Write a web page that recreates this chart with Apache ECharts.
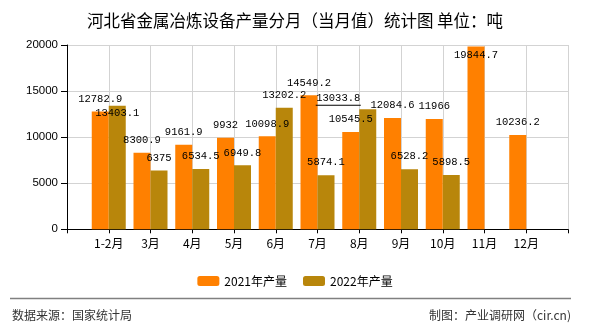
<!DOCTYPE html>
<html>
<head>
<meta charset="utf-8">
<script src="https://cdn.jsdelivr.net/npm/echarts@6/dist/echarts.min.js"></script>
<style>
html,body{margin:0;padding:0;background:#fff;}
#chart{width:590px;height:330px;}
</style>
</head>
<body>
<div id="chart"></div>
<script>
// ---- data ----
var categories = ['1-2月','3月','4月','5月','6月','7月','8月','9月','10月','11月','12月'];
var values2021 = [12782.9, 8300.9, 9161.9, 9932, 10098.9, 14549.2, 10545.5, 12084.6, 11966, 19844.7, 10236.2];
var values2022 = [13403.1, 6375, 6534.5, 6949.8, 13202.2, 5874.1, 13033.8, 6528.2, 5898.5, null, null];
var seriesNames = ['2021年产量', '2022年产量'];
var yTicks = [0, 5000, 10000, 15000, 20000];

// ---- styling (not data) ----
var labelFont = {fontFamily: 'Liberation Mono', fontSize: 10.5, color: '#000'};
var shift2021 = {9: [0, 21]};
var shift2022 = {0: [0, 20], 6: [-29.5, 3.5]};
var underlined2022 = {6: true};

function pad(arr) { return [null].concat(arr).concat([null]); }
var axisCats = [''].concat(categories).concat(['']);

function buildData(arr, shifts, underlined) {
  return pad(arr).map(function (v, i) {
    if (v == null) return null;
    var k = i - 1;
    var item = {value: v};
    var lab = {};
    if (shifts && shifts[k]) lab.offset = shifts[k];
    if (underlined && underlined[k]) {
      lab.formatter = '{v|{c}}\n{u|}';
      lab.rich = {
        v: {fontFamily: 'Liberation Mono', fontSize: 10.5, color: '#000', lineHeight: 12},
        u: {width: 45, height: 1, lineHeight: 1, backgroundColor: '#000'}
      };
    }
    item.label = lab;
    return item;
  });
}

var chart = echarts.init(document.getElementById('chart'), null, {renderer: 'canvas'});
chart.setOption({
  animation: false,
  title: {
    text: '河北省金属冶炼设备产量分月（当月值）统计图 单位：吨',
    left: 'center',
    top: 7,
    textStyle: {fontFamily: 'Noto Sans CJK SC', fontSize: 16.5, fontWeight: 'normal', color: '#000'}
  },
  legend: {
    data: seriesNames,
    left: 'center',
    top: 270,
    itemWidth: 22,
    itemHeight: 10,
    itemGap: 16,
    textStyle: {fontFamily: 'Noto Sans CJK SC', fontSize: 12, color: '#000'}
  },
  grid: {left: 67, right: 22, top: 45, bottom: 100.7, containLabel: false},
  xAxis: {
    type: 'category',
    data: axisCats,
    boundaryGap: false,
    axisLine: {lineStyle: {color: '#000', width: 1}},
    axisTick: {show: true, interval: 0, length: 4, lineStyle: {color: '#000'}},
    axisLabel: {interval: 0, margin: 8, fontFamily: 'Noto Sans CJK SC', fontSize: 12, color: '#000'},
    splitLine: {show: true, interval: 0, lineStyle: {color: '#d3d3d3', width: 1}}
  },
  yAxis: {
    type: 'value',
    min: yTicks[0],
    max: yTicks[yTicks.length - 1],
    interval: yTicks[1] - yTicks[0],
    axisLine: {show: true, lineStyle: {color: '#000', width: 1}},
    axisTick: {show: true, length: 6, lineStyle: {color: '#000'}},
    axisLabel: {margin: 9, fontFamily: 'Liberation Sans', fontSize: 11.5, color: '#000',
      formatter: function (v) { return String(v); }},
    splitLine: {show: true, lineStyle: {color: '#d3d3d3', width: 1}}
  },
  series: [
    {
      name: seriesNames[0],
      type: 'bar',
      barWidth: 17,
      barGap: '0%',
      itemStyle: {color: '#FF8000'},
      label: Object.assign({show: true, position: 'top', distance: 7}, labelFont),
      data: buildData(values2021, shift2021, null)
    },
    {
      name: seriesNames[1],
      type: 'bar',
      barWidth: 17,
      barGap: '0%',
      itemStyle: {color: '#B8860B'},
      label: Object.assign({show: true, position: 'top', distance: 7}, labelFont),
      data: buildData(values2022, shift2022, underlined2022)
    }
  ],
  graphic: [
    {type: 'line', shape: {x1: 10, y1: 298.5, x2: 571, y2: 298.5}, style: {stroke: '#808080', lineWidth: 1.5}, silent: true},
    {type: 'text', left: 12, top: 309, style: {text: '数据来源：国家统计局', fontFamily: 'Noto Sans CJK SC', fontSize: 12, fill: '#333'}},
    {type: 'text', right: 19, top: 309, style: {text: '制图：产业调研网（cir.cn)', fontFamily: 'Noto Sans CJK SC', fontSize: 12, fill: '#333'}}
  ]
});
</script>
</body>
</html>
